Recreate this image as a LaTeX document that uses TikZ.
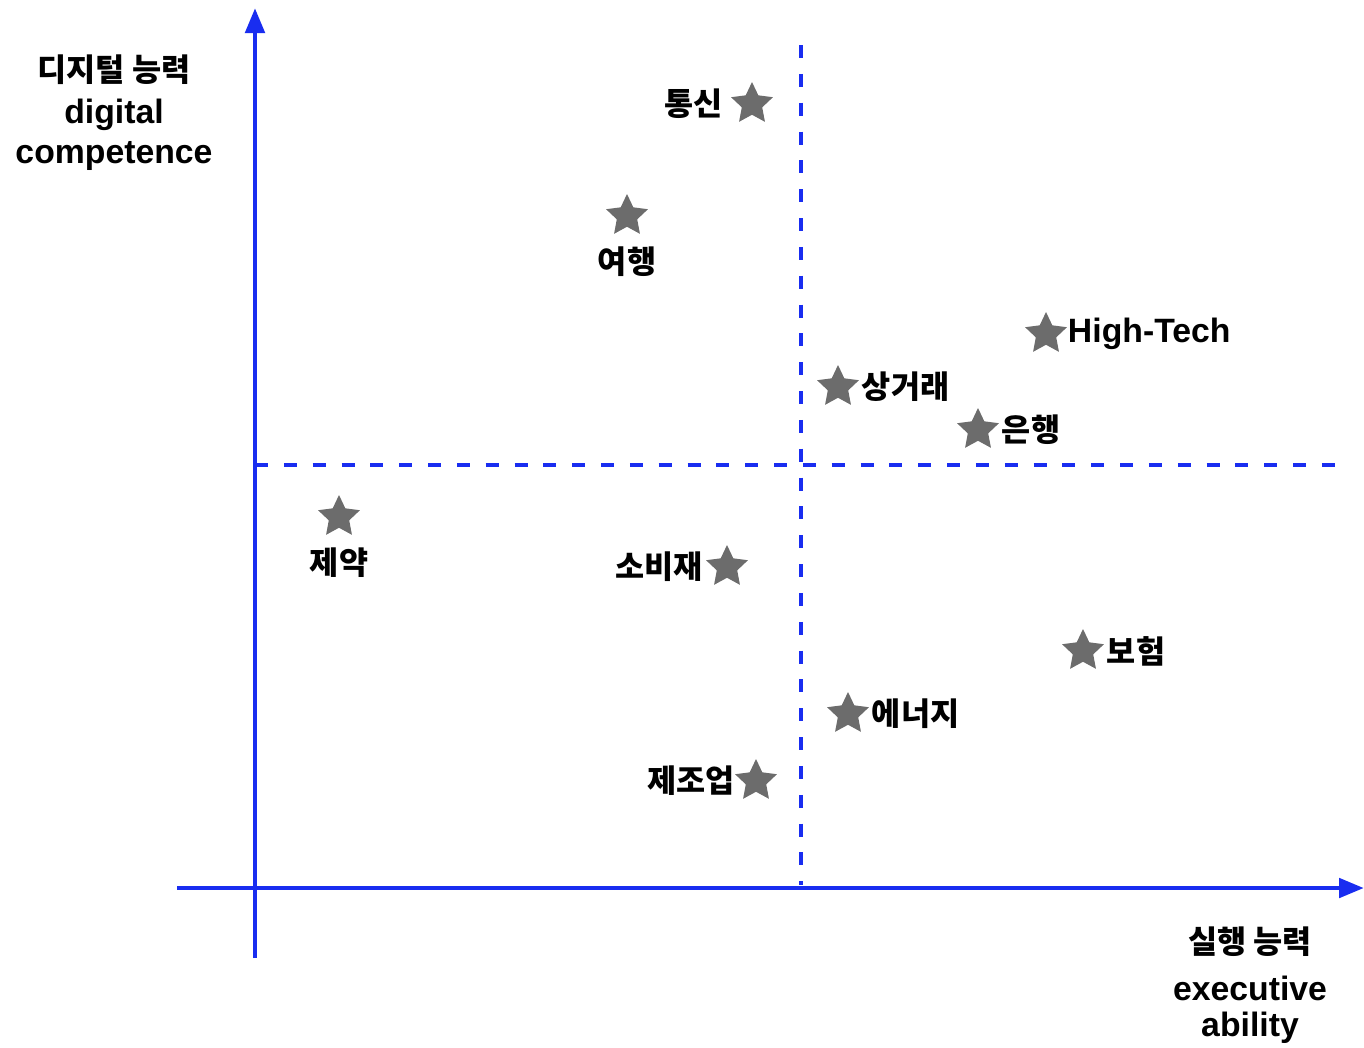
\documentclass[tikz,border=0pt]{standalone}
\usepackage{fontspec}
\setmainfont{Liberation Sans}
\newfontfamily\krfont{Noto Sans CJK KR}
\usetikzlibrary{arrows.meta,positioning,shapes.geometric}

\definecolor{axisblue}{RGB}{25,45,240}
\definecolor{stargray}{RGB}{108,108,108}

\begin{document}
\begin{tikzpicture}[x=0.01cm,y=-0.01cm,
    axis/.style={axisblue,line width=1.4pt,-{Triangle[length=0.25cm,width=0.19cm]}},
    divider/.style={axisblue,line width=1.4pt,dash pattern=on 3.7pt off 4.5pt},
    sector/.style={star,star points=5,star point ratio=2.05,fill=stargray,
                   minimum size=0.44cm,inner sep=0pt},
    krtext/.style={font=\krfont\bfseries\fontsize{9}{11}\selectfont,inner sep=1pt},
    entext/.style={font=\bfseries\fontsize{9.6}{11}\selectfont,inner sep=1pt}]

        \useasboundingbox (0,0) rectangle (1364,1047);

        % 좌표축
        \coordinate (xstart) at (177,888);
        \coordinate (xend) at (1364,888);
        \coordinate (ystart) at (255,958);
        \coordinate (yend) at (255,8);
        \draw [axis] (xstart) -- (xend);
        \draw [axis] (ystart) -- (yend);

        % 사분면 구분선
        \coordinate (vtop) at (801,45);
        \coordinate (vbot) at (801,885);
        \coordinate (hleft) at (255,465);
        \coordinate (hright) at (1340,465);
        \draw [divider] (vtop) -- (vbot);
        \draw [divider] (hleft) -- (hright);

        % 축 이름
        \node[krtext] (ylabkr) at (114,70) {디지털 능력};
        \node[entext] (ylaben) at (114,115) {digital};
        \node[entext] (ylaben2) at (114,156) {competence};
        \node[krtext] (xlabkr) at (1250,942) {실행 능력};
        \node[entext] (xlaben) at (1250,988) {executive};
        \node[entext] (xlaben2) at (1250,1028) {ability};

        % 산업별 위치
        \node[sector] (telecom) at (752,104) {};
        \node[krtext, left=0.1cm of telecom] {통신};

        \node[sector] (travel) at (627,216) {};
        \node[krtext, below=0.15cm of travel] {여행};

        \node[sector] (hightech) at (1046,334) {};
        \node[entext, right=0.03cm of hightech] {High-Tech};

        \node[sector] (commerce) at (838,387) {};
        \node[krtext, right=0.05cm of commerce] {상거래};

        \node[sector] (bank) at (978,430) {};
        \node[krtext, right=0.05cm of bank] {은행};

        \node[sector] (pharma) at (339,517) {};
        \node[krtext, below=0.15cm of pharma] {제약};

        \node[sector] (consumer) at (727,567) {};
        \node[krtext, left=0.05cm of consumer] {소비재};

        \node[sector] (insurance) at (1083,651) {};
        \node[krtext, right=0.05cm of insurance] {보험};

        \node[sector] (energy) at (848,714) {};
        \node[krtext, right=0.05cm of energy] {에너지};

        \node[sector] (manufact) at (756,781) {};
        \node[krtext, left=0.02cm of manufact] {제조업};

\end{tikzpicture}
\end{document}
